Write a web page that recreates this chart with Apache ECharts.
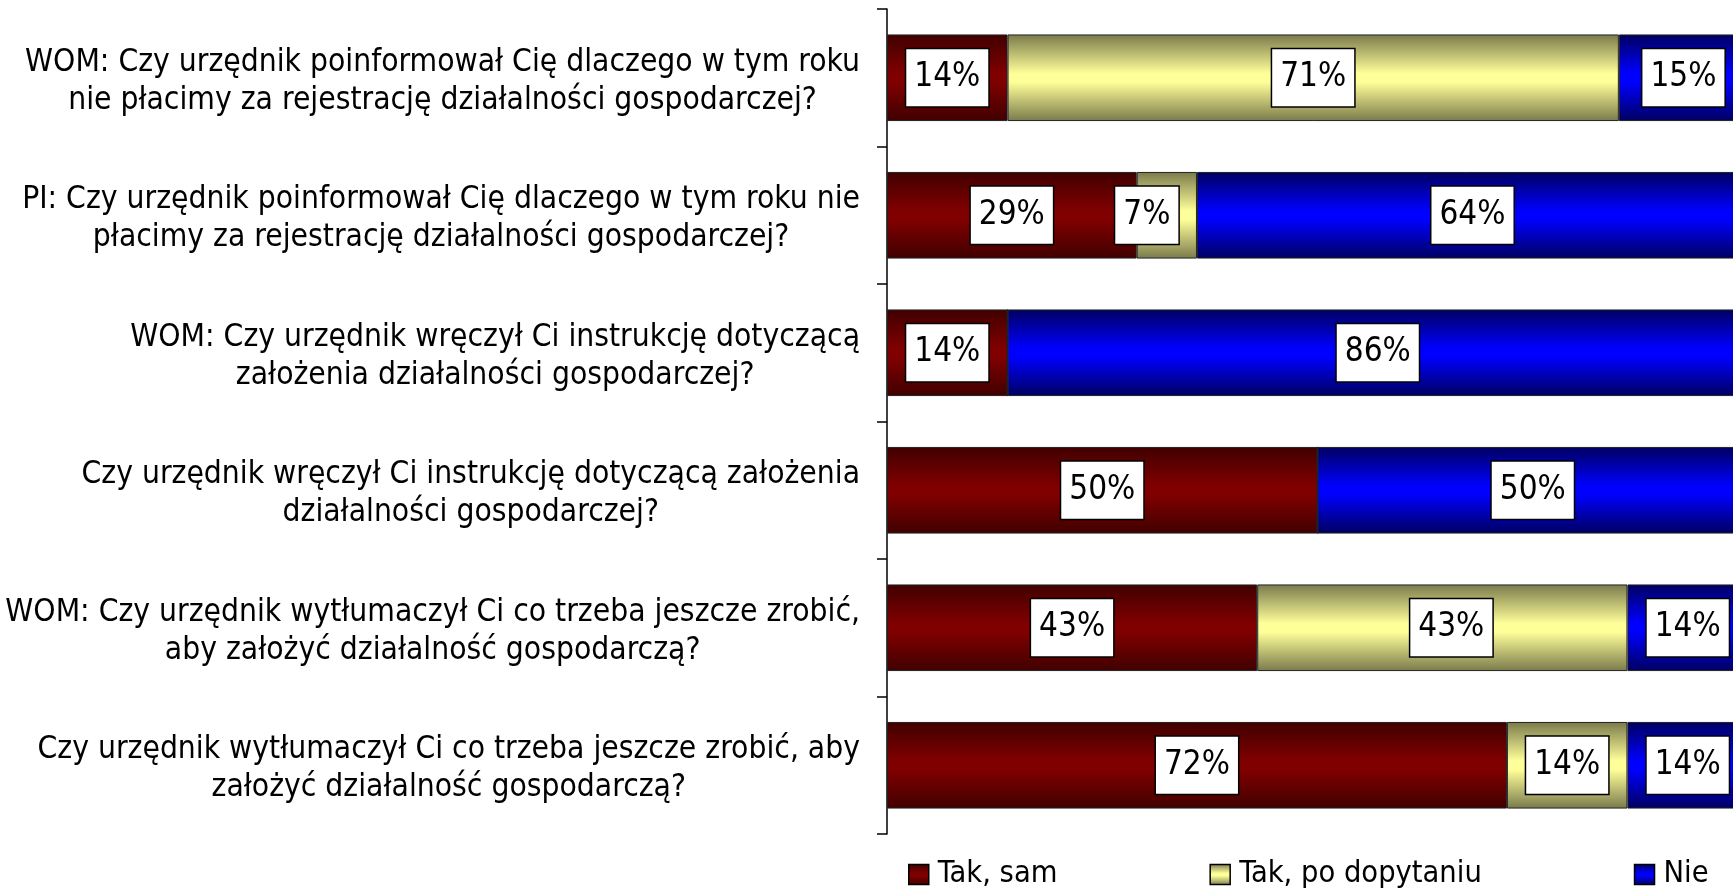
<!DOCTYPE html>
<html>
<head>
<meta charset="utf-8">
<script src="https://cdn.jsdelivr.net/npm/echarts@6/dist/echarts.min.js"></script>
<style>
  html, body { margin: 0; padding: 0; background: #fff; }
  #chart { width: 1733px; height: 890px; }
</style>
</head>
<body>
<div id="chart"></div>
<script>
// pytania (od góry)
var categories = [
  "WOM: Czy urzędnik poinformował Cię dlaczego w tym roku\nnie płacimy za rejestrację działalności gospodarczej?",
  "PI: Czy urzędnik poinformował Cię dlaczego w tym roku nie\npłacimy za rejestrację działalności gospodarczej?",
  "WOM: Czy urzędnik wręczył Ci instrukcję dotyczącą\nzałożenia działalności gospodarczej?",
  "Czy urzędnik wręczył Ci instrukcję dotyczącą założenia\ndziałalności gospodarczej?",
  "WOM: Czy urzędnik wytłumaczył Ci co trzeba jeszcze zrobić,\naby założyć działalność gospodarczą?",
  "Czy urzędnik wytłumaczył Ci co trzeba jeszcze zrobić, aby\nzałożyć działalność gospodarczą?"
];
var seriesNames = ["Tak, sam", "Tak, po dopytaniu", "Nie"];
var takSam = [14, 29, 14, 50, 43, 72];
var takPoDopytaniu = [71, 7, 0, 0, 43, 14];
var nie = [15, 64, 86, 50, 14, 14];

function grad(edge, mid) {
  return new echarts.graphic.LinearGradient(0, 0, 0, 1, [
    { offset: 0, color: edge },
    { offset: 0.45, color: mid },
    { offset: 0.55, color: mid },
    { offset: 1, color: edge }
  ]);
}
var fills = [
  grad("#400000", "#800000"),
  grad("#7a7a4c", "#ffff99"),
  grad("#000060", "#0000ff")
];

function items(values) {
  return values.map(function (v) {
    return { value: v, label: { show: v > 0 } };
  });
}

var chart = echarts.init(document.getElementById("chart"));
var font = "'DejaVu Sans Condensed', 'DejaVu Sans'";

var series = [takSam, takPoDopytaniu, nie].map(function (vals, i) {
  return {
    name: seriesNames[i],
    type: "bar",
    stack: "total",
    barCategoryGap: "37%",
    data: items(vals),
    itemStyle: { color: fills[i], borderColor: "#222", borderWidth: 1 },
    label: {
      position: "inside",
      formatter: "{c}%",
      color: "#000",
      fontFamily: font,
      fontSize: 33,
      lineHeight: 37,
      backgroundColor: "#fff",
      borderColor: "#000",
      borderWidth: 1.5,
      padding: [11, 8, 9, 8]
    }
  };
});
// etykiety przesunięte jak w oryginale
series[1].data[1].label.offset = [-20, 0];
series[1].data[4].label.offset = [9, 0];

chart.setOption({
  animation: false,
  legend: {
    left: 903,
    top: 854,
    icon: "rect",
    itemWidth: 20,
    itemHeight: 20,
    itemGap: 152,
    data: seriesNames,
    itemStyle: { borderColor: "#000", borderWidth: 1.5 },
    textStyle: { fontFamily: font, fontSize: 30.5, lineHeight: 30, color: "#000", padding: [0, 0, 0, 4] }
  },
  grid: { left: 887, top: 9, width: 861, height: 825, containLabel: false, outerBoundsMode: "none" },
  xAxis: {
    type: "value",
    min: 0,
    max: 100,
    show: false
  },
  yAxis: {
    type: "category",
    inverse: true,
    data: categories,
    axisLine: { show: true, lineStyle: { color: "#000", width: 1.5 } },
    axisTick: { show: true, length: 10, lineStyle: { color: "#000", width: 1.5 } },
    axisLabel: {
      margin: 27,
      align: "right",
      color: "#000",
      fontFamily: font,
      fontSize: 31.5,
      lineHeight: 38,
      padding: [8, 0, 0, 0],
      formatter: function (v) {
        return v.split("\n").map(function (l) { return "{c|" + l + "}"; }).join("\n");
      },
      rich: { c: { align: "center", fontFamily: font, fontSize: 31.5, lineHeight: 38, color: "#000" } }
    }
  },
  series: series
});
</script>
</body>
</html>
